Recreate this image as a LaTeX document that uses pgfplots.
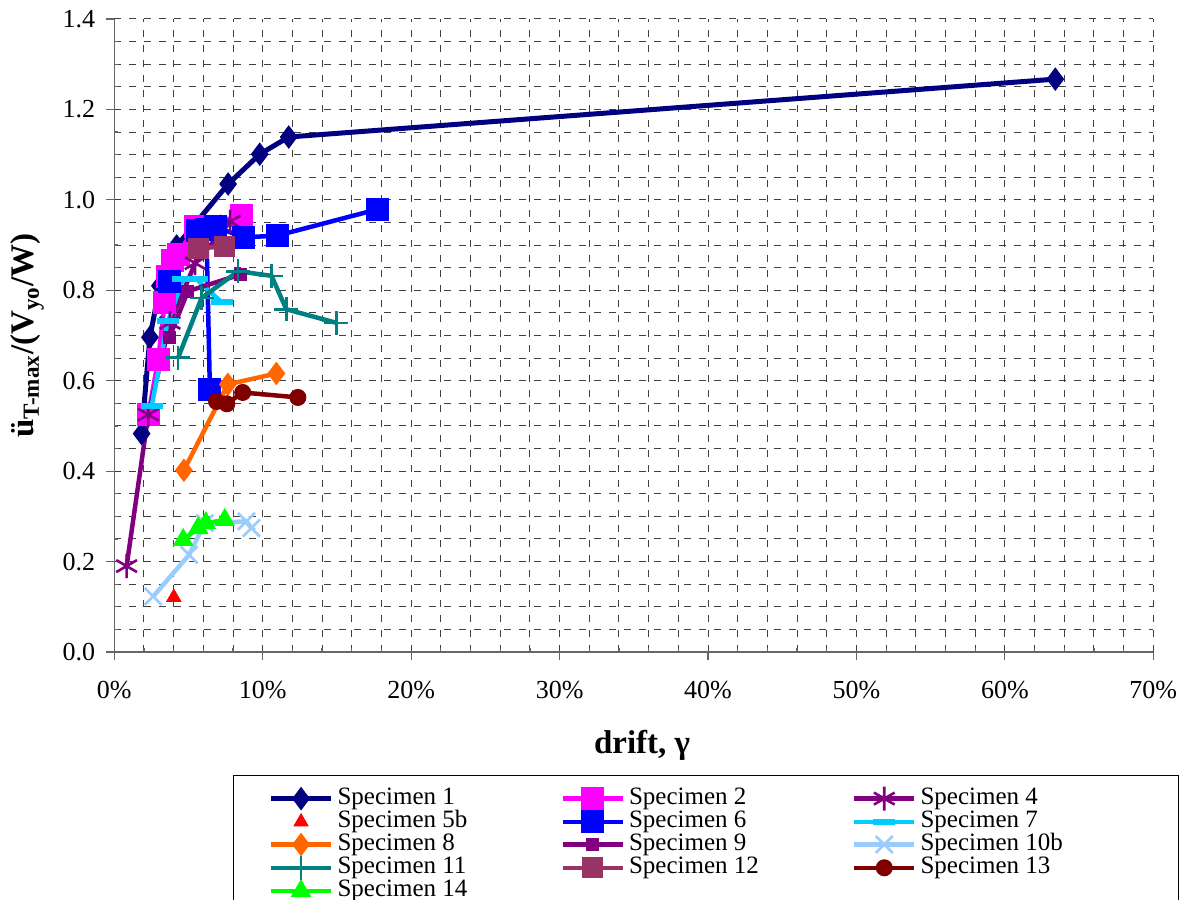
\documentclass[border=0pt]{standalone}
\usepackage{pgfplots}
\pgfplotsset{compat=1.18}
\usepackage{fontspec}
\setmainfont{Liberation Serif}
\definecolor{cA}{HTML}{000080}
\definecolor{cB}{HTML}{FF00FF}
\definecolor{cD}{HTML}{800080}
\definecolor{cE}{HTML}{FF0000}
\definecolor{cF}{HTML}{0000FF}
\definecolor{cG}{HTML}{00CCFF}
\definecolor{cH}{HTML}{FF6600}
\definecolor{cI}{HTML}{800080}
\definecolor{cJ}{HTML}{99CCFF}
\definecolor{cK}{HTML}{008080}
\definecolor{cL}{HTML}{993366}
\definecolor{cM}{HTML}{800000}
\definecolor{cN}{HTML}{00FF00}
\newcommand{\LE}[1]{\makebox[111.5pt][l]{#1}}
\begin{document}
\begin{tikzpicture}
\useasboundingbox (-57.15pt,-124pt) rectangle (534.85pt,326pt);
\clip (-57.15pt,-124pt) rectangle (534.85pt,326pt);
\begin{axis}[
  width=519.5pt, height=316.5pt, scale only axis,
  xmin=0, xmax=70, ymin=0, ymax=1.4,
  axis x line*=bottom, axis y line*=left,
  axis line style={-, black!60, line width=0.6pt},
  xtick={0,10,20,30,40,50,60,70},
  ytick={0,0.2,0.4,0.6,0.8,1.0,1.2,1.4},
  minor x tick num=4, minor y tick num=3,
  xticklabel={\pgfmathprintnumber{\tick}\%},
  /pgf/number format/assume math mode=true,
  tick label style={font=\fontsize{13}{14}\selectfont},
  xticklabel style={yshift=-11pt},
  yticklabel style={xshift=-6pt, /pgf/number format/fixed, /pgf/number format/fixed zerofill, /pgf/number format/precision=1},
  grid=both,
  major grid style={black!75, line width=0.5pt, dash pattern=on 3.5pt off 4pt},
  minor grid style={black!75, line width=0.5pt, dash pattern=on 3.5pt off 4pt},
  tick align=inside, major tick length=-4pt, minor tick length=2pt,
  tick style={black!60, line width=0.6pt},
  xlabel={\textbf{drift, γ}},
  ylabel={\textbf{ü\textsubscript{T-max}/(V\textsubscript{yo}/W)}},
  every axis x label/.style={at={(axis description cs:0.508,-0.147)}, anchor=center, font=\fontsize{16.5}{18}\selectfont},
  every axis y label/.style={at={(axis description cs:-0.0837,0.5)}, rotate=90, anchor=center, font=\fontsize{16.5}{18}\selectfont},
  legend columns=3,
  legend cell align=left,
  legend style={at={(0.1142,-0.1943)}, anchor=north west, draw=black, line width=0.6pt,
    inner xsep=17.5pt, inner ysep=5.5pt,
    font=\fontsize{12.5}{12.5}\selectfont,
    nodes={inner sep=0pt, text height=8.5pt, text depth=2.8pt},
    row sep=0pt, column sep=0pt,
    /tikz/every odd column/.append style={column sep=2pt}},
  legend image code/.code={\draw[mark repeat=2,mark phase=2,#1] plot coordinates {(0pt,0pt)(15pt,0pt)(30pt,0pt)};},
]
% Specimen 1
\addplot[color=cA, line width=2.5pt, mark=diamond*, mark size=5.5pt, mark options={solid, fill=cA, line width=0.5pt}]
coordinates {(1.84,0.483)(2.40,0.696)(3.07,0.810)(4.20,0.898)(7.67,1.035)(9.80,1.101)(11.75,1.139)(63.4,1.267)};
\addlegendentry{\LE{Specimen 1}}
% Specimen 2
\addplot[color=cB, line width=2.25pt, mark=square*, mark size=5.5pt, mark options={solid, fill=cB, line width=0.5pt}]
coordinates {(2.29,0.525)(2.96,0.647)(3.40,0.773)(3.60,0.830)(3.90,0.865)(4.30,0.880)(5.45,0.940)(8.57,0.965)};
\addlegendentry{\LE{Specimen 2}}
% Specimen 4
\addplot[color=cD, line width=2.25pt, mark=asterisk, mark size=6pt, mark options={solid, line width=1.3pt}]
coordinates {(0.83,0.190)(2.29,0.525)(3.75,0.728)(5.45,0.860)(7.80,0.952)};
\addlegendentry{\LE{Specimen 4}}
% Specimen 5b
\addplot[color=cE, only marks, mark=triangle*, mark size=4pt, mark options={solid, fill=cE, line width=0.5pt}]
coordinates {(4.01,0.121)};
\addlegendentry{\LE{Specimen 5b}}
% Specimen 6
\addplot[color=cF, line width=2.25pt, mark=square*, mark size=5.5pt, mark options={solid, fill=cF, line width=0.5pt}]
coordinates {(3.75,0.820)(5.63,0.933)(6.84,0.940)(8.72,0.917)(10.99,0.921)(17.73,0.979)};
\addlegendentry{\LE{Specimen 6}}
\addplot[forget plot, color=cF, line width=2.25pt, mark=square*, mark size=5.5pt, mark options={solid, fill=cF, line width=0.5pt}]
coordinates {(6.20,0.935)(6.44,0.581)};
% Specimen 7
\addplot[color=cG, line width=2.25pt, mark=-, mark size=5.5pt, mark options={solid, line width=3pt}]
coordinates {(2.52,0.545)(3.61,0.731)(4.62,0.824)(5.56,0.824)(7.24,0.773)};
\addlegendentry{\LE{Specimen 7}}
% Specimen 8
\addplot[color=cH, line width=2.25pt, mark=diamond*, mark size=5.5pt, mark options={solid, fill=cH, line width=0.5pt}]
coordinates {(4.69,0.402)(7.65,0.592)(10.92,0.616)};
\addlegendentry{\LE{Specimen 8}}
% Specimen 9
\addplot[color=cI, line width=2.25pt, mark=square*, mark size=3pt, mark options={solid, fill=cI, line width=0.5pt}]
coordinates {(3.70,0.695)(4.96,0.798)(8.52,0.835)};
\addlegendentry{\LE{Specimen 9}}
% Specimen 10b
\addplot[color=cJ, line width=2.25pt, mark=x, mark size=6pt, mark options={solid, line width=1.3pt}]
coordinates {(2.62,0.123)(5.04,0.215)(6.10,0.285)(8.90,0.289)(9.24,0.274)};
\addlegendentry{\LE{Specimen 10b}}
% Specimen 11
\addplot[color=cK, line width=2.25pt, mark=+, mark size=6pt, mark options={solid, line width=1.3pt}]
coordinates {(4.30,0.651)(5.88,0.783)(8.34,0.842)(10.59,0.832)(11.59,0.758)(14.96,0.728)};
\addlegendentry{\LE{Specimen 11}}
% Specimen 12
\addplot[color=cL, line width=2.25pt, mark=square*, mark size=5pt, mark options={solid, fill=cL, line width=0.5pt}]
coordinates {(5.70,0.893)(7.44,0.897)};
\addlegendentry{\LE{Specimen 12}}
% Specimen 13
\addplot[color=cM, line width=2.25pt, mark=*, mark size=4pt, mark options={solid, fill=cM, line width=0.5pt}]
coordinates {(6.89,0.554)(7.58,0.549)(8.65,0.574)(12.37,0.563)};
\addlegendentry{\LE{Specimen 13}}
% Specimen 14
\addplot[color=cN, line width=2.25pt, mark=triangle*, mark size=5.5pt, mark options={solid, fill=cN, line width=0.5pt}]
coordinates {(4.64,0.248)(5.65,0.274)(6.17,0.285)(7.44,0.292)};
\addlegendentry{\LE{Specimen 14}}
\end{axis}
\end{tikzpicture}
\end{document}
